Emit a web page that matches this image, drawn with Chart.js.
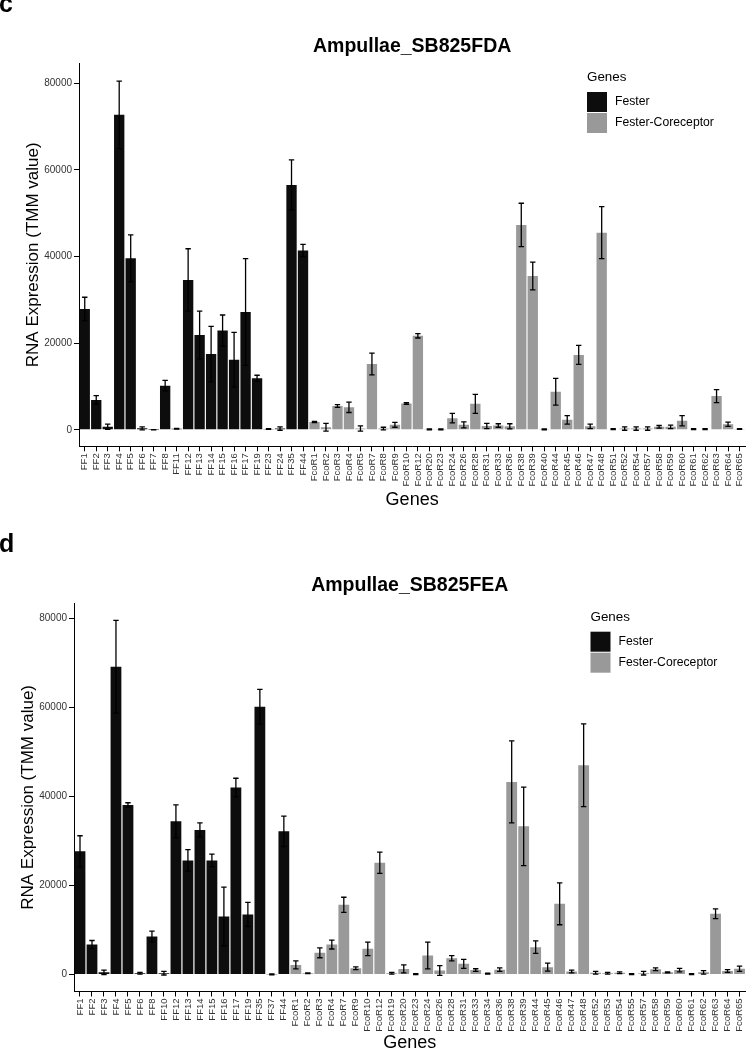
<!DOCTYPE html>
<html>
<head>
<meta charset="utf-8">
<script src="https://cdn.jsdelivr.net/npm/chart.js@4/dist/chart.umd.min.js"></script>
<style>
  html, body { margin: 0; padding: 0; background: #fff; width: 753px; height: 1050px; overflow: hidden; }
  body { position: relative; font-family: "Liberation Sans", Arial, sans-serif; }
  .panel { position: absolute; left: 0; }
  .tag { position: absolute; left: -1px; font-weight: bold; font-size: 25px; line-height: 25px; color: #000; }
</style>
</head>
<body>
<div class="panel" style="top:0"><canvas id="chartFDA" width="753" height="520"></canvas></div>
<div class="panel" style="top:520px"><canvas id="chartFEA" width="753" height="545"></canvas></div>
<div class="tag" style="top:-9px">c</div>
<div class="tag" style="top:531px">d</div>
<script>
// ---------------- DATA ----------------
const seriesNames = ['Fester', 'Fester-Coreceptor'];
const yTicks = [0, 20000, 40000, 60000, 80000];

const fdaTitle = 'Ampullae_SB825FDA';
const fdaLabels = ['FF1','FF2','FF3','FF4','FF5','FF6','FF7','FF8','FF11','FF12','FF13','FF14','FF15','FF16','FF17','FF19','FF23','FF24','FF35','FF44',
  'FcoR1','FcoR2','FcoR3','FcoR4','FcoR5','FcoR7','FcoR8','FcoR9','FcoR10','FcoR12','FcoR20','FcoR23','FcoR24','FcoR26','FcoR28','FcoR31','FcoR33','FcoR36','FcoR38','FcoR39',
  'FcoR40','FcoR44','FcoR45','FcoR46','FcoR47','FcoR48','FcoR51','FcoR52','FcoR54','FcoR57','FcoR58','FcoR59','FcoR60','FcoR61','FcoR62','FcoR63','FcoR64','FcoR65'];
const fdaMean = [27900, 6900, 700, 72700, 39600, 350, 30, 10200, 250, 34600, 21900, 17500, 22900, 16200, 27200, 11900, 200, 300, 56500, 41400,
  1800, 600, 5500, 5200, 300, 15200, 300, 1150, 6100, 21700, 100, 100, 2700, 1150, 6000, 900, 1000, 800, 47300, 35500,
  100, 8800, 2300, 17300, 800, 45500, 150, 300, 300, 300, 700, 700, 2100, 150, 150, 7800, 1300, 200];
const fdaErr = [2700, 1000, 600, 7800, 5400, 350, 30, 1200, 100, 7200, 5500, 6400, 3600, 6300, 12300, 700, 100, 400, 5800, 1400,
  150, 900, 300, 1200, 600, 2500, 300, 550, 200, 500, 100, 100, 1100, 700, 2200, 600, 400, 600, 5000, 3200,
  100, 3100, 1000, 2200, 500, 6000, 100, 400, 400, 400, 300, 400, 1200, 100, 100, 1500, 500, 100];

const feaTitle = 'Ampullae_SB825FEA';
const feaLabels = ['FF1','FF2','FF3','FF4','FF5','FF6','FF8','FF10','FF12','FF13','FF14','FF15','FF16','FF17','FF19','FF35','FF37','FF44',
  'FcoR1','FcoR2','FcoR3','FcoR4','FcoR7','FcoR9','FcoR10','FcoR12','FcoR19','FcoR20','FcoR23','FcoR24','FcoR26','FcoR28','FcoR31','FcoR33','FcoR34','FcoR36','FcoR38','FcoR39',
  'FcoR44','FcoR45','FcoR46','FcoR47','FcoR48','FcoR52','FcoR53','FcoR54','FcoR55','FcoR57','FcoR58','FcoR59','FcoR60','FcoR61','FcoR62','FcoR63','FcoR64','FcoR65'];
const feaMean = [27640, 6740, 500, 69050, 38050, 300, 8540, 300, 34380, 25620, 32430, 25620, 13030, 41950, 13480, 60070, 50, 32130,
  2170, 300, 4870, 6740, 15650, 1420, 5770, 25090, 300, 1270, 100, 4270, 900, 3670, 2400, 1000, 200, 1100, 43220, 33250,
  6140, 1650, 15880, 700, 46960, 400, 300, 400, 100, 300, 1200, 500, 1000, 100, 500, 13640, 800, 1300];
const feaErr = [3500, 900, 500, 10400, 500, 200, 1200, 400, 3700, 2400, 1600, 1400, 6600, 2100, 2700, 3900, 100, 3400,
  900, 100, 1100, 1000, 1700, 300, 1500, 2400, 200, 900, 100, 3000, 1100, 600, 1000, 300, 100, 400, 9200, 8800,
  1400, 900, 4700, 300, 9300, 300, 200, 200, 100, 400, 300, 100, 400, 100, 400, 1100, 300, 600];

// ---------------- STYLE ----------------
const FONT = '"Liberation Sans", Arial, sans-serif';
const colors = ['#0d0d0d', '#999999'];
Chart.defaults.font.family = FONT;
Chart.defaults.color = '#000';

const errorBarPlugin = {
  id: 'errorBars',
  afterDatasetsDraw(chart, args, opts) {
    const { ctx, scales: { x, y } } = chart;
    ctx.save();
    ctx.strokeStyle = '#000';
    ctx.lineWidth = 1.3;
    const cap = 2.7;
    opts.means.forEach((m, i) => {
      const e = opts.errs[i];
      const px = x.getPixelForValue(i);
      const yt = y.getPixelForValue(m + e);
      const yb = y.getPixelForValue(m - e);
      ctx.beginPath();
      ctx.moveTo(px, yt); ctx.lineTo(px, yb);
      ctx.moveTo(px - cap, yt); ctx.lineTo(px + cap, yt);
      ctx.moveTo(px - cap, yb); ctx.lineTo(px + cap, yb);
      ctx.stroke();
    });
    ctx.restore();
  }
};

const geneLegendPlugin = {
  id: 'geneLegend',
  afterDraw(chart, args, opts) {
    const ctx = chart.ctx;
    ctx.save();
    ctx.textBaseline = 'middle';
    ctx.textAlign = 'left';
    ctx.fillStyle = '#000';
    ctx.font = '13.4px ' + FONT;
    ctx.fillText(opts.title, opts.x, opts.titleY);
    chart.data.datasets.forEach((ds, i) => {
      const top = opts.keyTop + i * 21;
      ctx.fillStyle = ds.backgroundColor;
      ctx.fillRect(opts.x, top, 20, 20);
      ctx.fillStyle = '#000';
      ctx.font = '12.2px ' + FONT;
      ctx.fillText(ds.label, opts.x + 28, top + 10);
    });
    ctx.restore();
  }
};

function makeChart(id, title, labels, means, errs, g) {
  const isFester = labels.map(l => l.startsWith('FF'));
  const datasets = seriesNames.map((name, k) => ({
    label: name,
    data: means.map((v, i) => (isFester[i] === (k === 0) ? v : null)),
    backgroundColor: colors[k],
    borderWidth: 0,
    grouped: false,
    barPercentage: 0.9,
    categoryPercentage: 1.0
  }));
  return new Chart(document.getElementById(id), {
    type: 'bar',
    data: { labels, datasets },
    plugins: [errorBarPlugin, geneLegendPlugin],
    options: {
      responsive: false,
      animation: false,
      layout: { padding: { top: g.padTop, left: 0, right: g.padRight, bottom: 0 } },
      plugins: {
        legend: { display: false },
        tooltip: { enabled: false },
        title: {
          display: true, text: title, fullSize: false,
          font: { size: 19.5, weight: 'bold', family: FONT }, color: '#000',
          padding: { top: 0, bottom: g.titleGap }
        },
        errorBars: { means, errs },
        geneLegend: { title: 'Genes', x: g.legX, titleY: g.legTitleY, keyTop: g.legKeyTop }
      },
      scales: {
        x: {
          type: 'category',
          offset: true,
          afterFit: s => { s.height = g.xHeight; },
          grid: { display: true, drawOnChartArea: false, drawTicks: true, tickLength: 5, offset: false, color: '#000', lineWidth: 1 },
          border: { display: true, color: '#000', width: 1 },
          ticks: { autoSkip: false, minRotation: 90, maxRotation: 90, padding: 2, color: '#333', font: { size: 9.5, family: FONT } },
          title: { display: true, text: 'Genes', color: '#000', font: { size: 18, family: FONT }, padding: { top: 0, bottom: g.xTitlePad } }
        },
        y: {
          min: g.yMin, max: g.yMax,
          afterFit: s => { s.width = g.yWidth; },
          afterBuildTicks: s => { s.ticks = yTicks.map(v => ({ value: v })); },
          grid: { display: true, drawOnChartArea: false, drawTicks: true, tickLength: 5, color: '#000', lineWidth: 1 },
          border: { display: true, color: '#000', width: 1 },
          ticks: { padding: 2, color: '#333', font: { size: 10, family: FONT }, callback: v => String(v) },
          title: { display: true, text: 'RNA Expression (TMM value)', color: '#000', font: { size: 17, family: FONT }, padding: { top: g.yTitlePad, bottom: 0 } }
        }
      }
    }
  });
}

makeChart('chartFDA', fdaTitle, fdaLabels, fdaMean, fdaErr, {
  padTop: 35.4, titleGap: 4.5, padRight: 5, yWidth: 79, xHeight: 73.7,
  yMin: -3800, yMax: 84600, xTitlePad: 9.6, yTitlePad: 22.7,
  legX: 587, legTitleY: 77, legKeyTop: 92
});
makeChart('chartFEA', feaTitle, feaLabels, feaMean, feaErr, {
  padTop: 53.7, titleGap: 6.2, padRight: 6, yWidth: 74, xHeight: 73.5,
  yMin: -3800, yMax: 83300, xTitlePad: 10.9, yTitlePad: 17.7,
  legX: 590.5, legTitleY: 97, legKeyTop: 111.7
});
</script>
</body>
</html>
